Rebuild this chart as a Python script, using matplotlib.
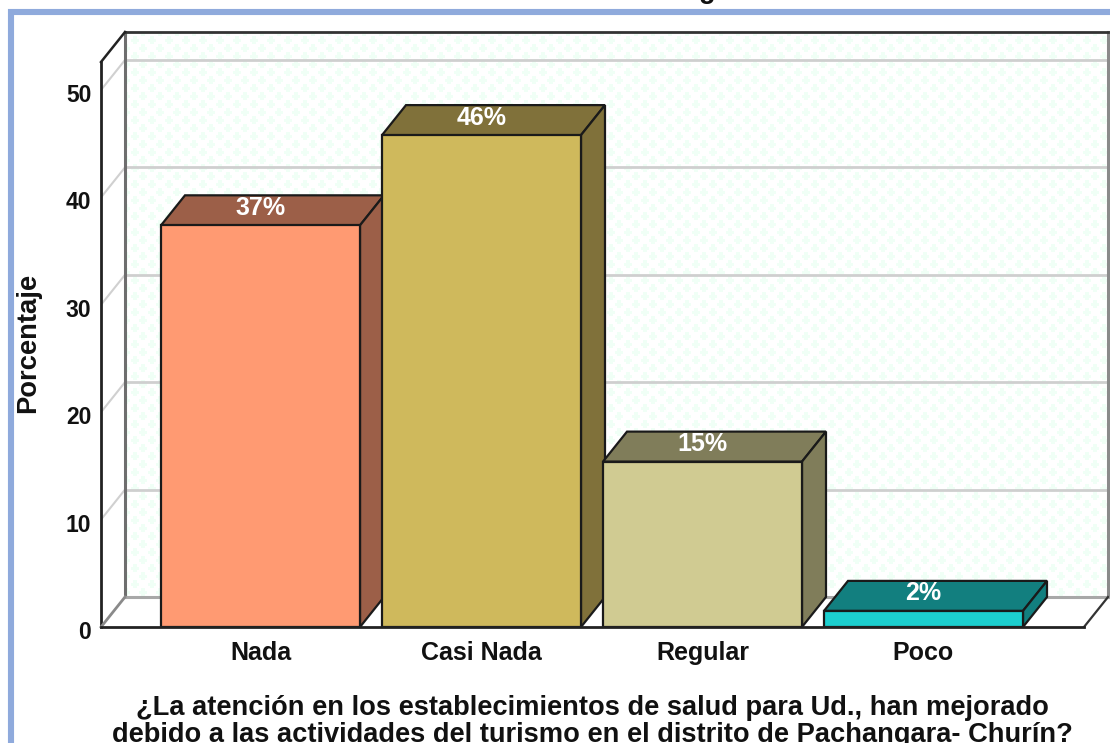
import numpy as np
import matplotlib
matplotlib.use('Agg')
import matplotlib.pyplot as plt
from matplotlib.patches import Polygon, Rectangle
from matplotlib.transforms import ScaledTranslation

plt.rcParams['font.family'] = ['Liberation Sans', 'DejaVu Sans']

categories = ['Nada', 'Casi Nada', 'Regular', 'Poco']
values = [37.4, 45.8, 15.4, 1.5]
pct_labels = ['37%', '46%', '15%', '2%']
front_colors = ['#FF9A72', '#CFB95C', '#D0CB92', '#1CCFCF']
side_colors = ['#9C5F48', '#80713A', '#807D5A', '#127F7F']
y_ticks = [0, 10, 20, 30, 40, 50]

W, H = 1110, 743
fig = plt.figure(figsize=(W / 100, H / 100), dpi=100)

# blue frame of the screenshot
bg = fig.add_axes([0, 0, 1, 1])
bg.set_xlim(0, W)
bg.set_ylim(H, 0)
bg.axis('off')
bg.add_patch(Rectangle((11, 12), W + 20, H + 20, fc='white', ec='#8FAADC', lw=4.4))

# px sizes of the chart
x0_px, y0_px = 260.5, 627
px_per_cat, px_per_unit = 221, 10.74
left_px, right_px, top_px = 101, 1108, 32
ax = fig.add_axes([left_px / W, 1 - y0_px / H, (right_px - left_px) / W, (y0_px - top_px) / H])
ax.set_xlim((left_px - x0_px) / px_per_cat, (right_px - x0_px) / px_per_cat)
ax.set_ylim(0, (y0_px - top_px) / px_per_unit)
ax.patch.set_alpha(0)
for s in ax.spines.values():
    s.set_visible(False)

dx, dy = 24 / px_per_cat, 30 / px_per_unit
bar_w = 199 / px_per_cat
xl, xr = ax.get_xlim()
ytop = ax.get_ylim()[1]
fr = xr - dx

# back wall texture, pale green crosses in offset rows
tile = 17
row = tile // 2
yy, xx = np.mgrid[0:565, 0:983]
rows = (yy + row // 2) // row
ys = (yy + row // 2) % row - row / 2
xs = (xx + rows % 2 * row + tile // 2) % tile - tile / 2
cross = ((np.abs(xs) < 1.6) & (np.abs(ys) < 4.5)) | ((np.abs(xs) < 4.5) & (np.abs(ys) < 1.6))
img = np.ones(xx.shape + (3,))
img[cross] = matplotlib.colors.to_rgb('#F0FFF6')
ax.imshow(img, extent=(xl + dx, xr, dy, ytop), aspect='auto', zorder=0, interpolation='bilinear')
ax.set_xlim(xl, xr)
ax.set_ylim(0, ytop)

# gridlines: back wall and left wall
for t in y_ticks[1:]:
    ax.plot([xl + dx, xr], [t + dy, t + dy], color='#CFCFCF', lw=2, zorder=1, clip_on=False)
    ax.plot([xl, xl + dx], [t, t + dy], color='#D0D0D0', lw=1.5, zorder=1)

# walls and floor outlines
ax.add_patch(Polygon([(xl, 0), (fr, 0), (xr, dy), (xl + dx, dy)], fc='white', ec='none', zorder=0.5))
ax.plot([xl + dx, xl + dx], [dy, ytop], color='#6E6E6E', lw=2.2, zorder=2, clip_on=False)
ax.plot([xr, xr], [dy, ytop], color='#8A8A8A', lw=2.2, zorder=2, clip_on=False)
ax.plot([xl + dx, xr], [dy, dy], color='#A8A8A8', lw=2.2, zorder=2, clip_on=False)
ax.plot([xl + dx, xr], [ytop, ytop], color='#333333', lw=2, zorder=2, clip_on=False)
ax.plot([xl, xl + dx], [ytop - dy, ytop], color='#222222', lw=1.8, zorder=2, clip_on=False)
ax.plot([xl, xl], [0, ytop - dy], color='#222222', lw=2, zorder=2, clip_on=False)
ax.plot([xl, xl + dx], [0, dy], color='#8A8A8A', lw=2, zorder=2, clip_on=False)
ax.plot([fr, xr], [0, dy], color='#333333', lw=1.6, zorder=2, clip_on=False)
ax.plot([xl, fr], [0, 0], color='#222222', lw=2, zorder=7, clip_on=False)

# bars
pos = np.arange(len(categories))
for i, (val, lab) in enumerate(zip(values, pct_labels)):
    x1, x2 = pos[i] - bar_w / 2, pos[i] + bar_w / 2
    ax.bar(pos[i], val, bar_w, color=front_colors[i], edgecolor='#1A1A1A', lw=1.6, zorder=5)
    ax.add_patch(Polygon([(x1, val), (x2, val), (x2 + dx, val + dy), (x1 + dx, val + dy)],
                         fc=side_colors[i], ec='#1A1A1A', lw=1.6, zorder=4))
    ax.add_patch(Polygon([(x2, 0), (x2 + dx, dy), (x2 + dx, val + dy), (x2, val)],
                         fc=side_colors[i], ec='#1A1A1A', lw=1.6, zorder=4))
    ax.text(pos[i], val + dy * 0.58, lab, color='white', fontsize=18, fontweight='bold',
            ha='center', va='center', zorder=6)

ax.set_xticks(pos, categories)
ax.set_yticks(y_ticks, [str(t) for t in y_ticks])
ax.tick_params(axis='x', length=0, pad=10, labelsize=18)
ax.tick_params(axis='y', length=0, pad=7, labelsize=16.5)
for lb in ax.get_xticklabels() + ax.get_yticklabels():
    lb.set_fontweight('bold')
    lb.set_color('#111111')
# y labels sit a little below their gridline in the original
shift = ScaledTranslation(0, -3 / 100, fig.dpi_scale_trans)
for lb in ax.get_yticklabels():
    lb.set_transform(lb.get_transform() + shift)
ax.set_ylabel('Porcentaje', fontsize=19.7, fontweight='bold', color='#111111')
ax.yaxis.set_label_coords((41 - left_px) / (right_px - left_px), 0.477)

fig.text(592 / W, 1 - 708 / H, '¿La atención en los establecimientos de salud para Ud., han mejorado',
         fontsize=19.6, fontweight='bold', ha='center', va='center', color='#111111')
fig.text(592 / W, 1 - 735 / H, 'debido a las actividades del turismo en el distrito de Pachangara- Churín?',
         fontsize=19.6, fontweight='bold', ha='center', va='center', color='#111111')
# title cut at the top edge of the screenshot
fig.text(550 / W, 1 + 2 / H, 'del turismo en el distrito de Pachangara- Churín',
         fontsize=19.6, fontweight='bold', ha='center', va='baseline', color='#111111')

fig.savefig('out.png', dpi=100)
